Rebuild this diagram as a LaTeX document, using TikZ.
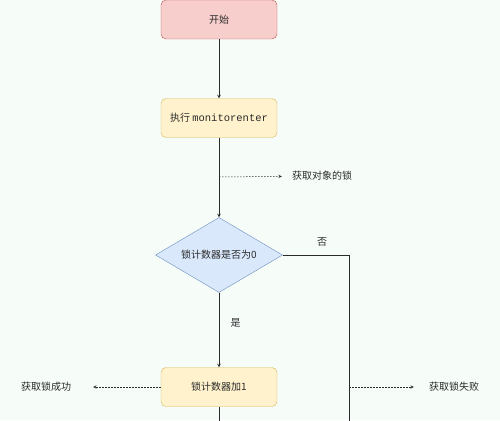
\documentclass[tikz,border=0pt]{standalone}
\usepackage{fontspec}
\setmainfont{Noto Sans CJK SC}
\newfontfamily\monofam{Liberation Mono}
\usetikzlibrary{shapes.geometric}
\definecolor{fondo}{HTML}{F6FDF9}
\definecolor{rojoF}{HTML}{F8CECC}
\definecolor{rojoB}{HTML}{B85450}
\definecolor{amaF}{HTML}{FFF2CC}
\definecolor{amaB}{HTML}{D6B656}
\definecolor{azulF}{HTML}{DAE8FC}
\definecolor{azulB}{HTML}{6C8EBF}
\definecolor{linea}{HTML}{2B2B2B}
\begin{document}
\begin{tikzpicture}[x=1pt, y=-1pt, >=stealth, font=\fontsize{10}{12}\selectfont, text=linea,
		caja/.style={draw, rounded corners=5pt, minimum width=116pt, minimum height=39pt, inner sep=0pt},
		rombo/.style={draw=azulB, fill=azulF, diamond, aspect=1.7, minimum width=127pt, minimum height=75pt, inner sep=0pt},
		etiqueta/.style={minimum width=80pt, inner sep=0pt},
		flujo/.style={draw=linea, line width=0.6pt},
		punteada/.style={draw=linea, dash pattern=on 1.5pt off 1.5pt, line width=0.5pt}]
		% Fondo
			\fill[fondo] (0,0) rectangle (500,420);
			\useasboundingbox (0,0) rectangle (500,420);
		% Cajas
			\node[caja, draw=rojoB, fill=rojoF] (inicio) at (219,19.5) {开始};
			\node[caja, draw=amaB, fill=amaF] (ejecutar) at (219,118) {执行\ {\monofam\fontsize{10.5}{12}\selectfont monitorenter}};
			\node[rombo] (decision) at (219,255) {锁计数器是否为0};
			\node[caja, draw=amaB, fill=amaF] (sumar) at (219,387) {锁计数器加1};
		% Etiquetas
			\node[etiqueta] (objeto) at (322,176) {获取对象的锁};
			\node[etiqueta, minimum width=94pt] (exito) at (46,387) {获取锁成功};
			\node[etiqueta] (fallo) at (454,387) {获取锁失败};
			\coordinate (rama) at (219,177);
			\coordinate (esquina) at (349,255);
			\coordinate (derecha) at (349,387);
			\coordinate (finD) at (349,421);
			\coordinate (finI) at (219,421);
		% Flechas
			\draw[flujo, ->] (inicio) -- (ejecutar);
			\draw[flujo, ->] (ejecutar) -- (decision);
			\draw[punteada, ->] (rama) -- (objeto);
			\draw[flujo] (decision.east) -- (esquina) -- (finD);
			\node (no) at (322,242) {否};
			\draw[flujo, ->] (decision) -- node[pos=0.4, right=8pt] (si) {是} (sumar);
			\draw[flujo] (sumar) -- (finI);
			\draw[punteada, ->] (sumar) -- (exito);
			\draw[punteada, ->] (derecha) -- (fallo);
\end{tikzpicture}
\end{document}
